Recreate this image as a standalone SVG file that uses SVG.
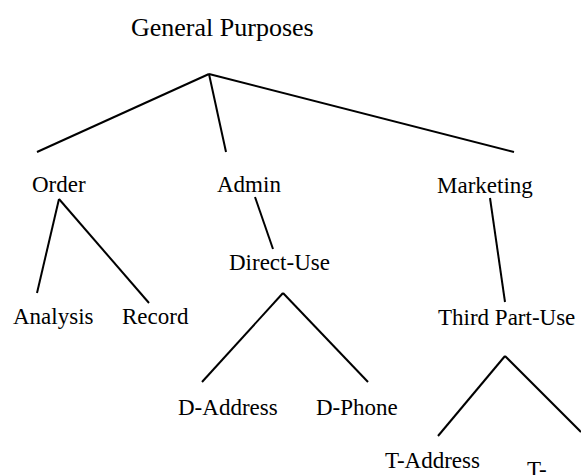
<svg xmlns="http://www.w3.org/2000/svg" width="581" height="475" viewBox="0 0 581 475">
<style>
text{font-family:"Liberation Serif","Times New Roman",serif;font-size:23px;fill:#000}
.t{font-size:26px}
line{stroke:#000;stroke-width:2;stroke-linecap:butt}
</style>
<rect width="581" height="475" fill="#fff"/>
<g id="connectors">
<line x1="209" y1="74" x2="37" y2="152"/>
<line x1="209" y1="74" x2="226" y2="152"/>
<line x1="209" y1="74" x2="514" y2="152"/>
<line x1="59" y1="199" x2="37" y2="293"/>
<line x1="59" y1="199" x2="149" y2="303"/>
<line x1="255" y1="197" x2="273" y2="249"/>
<line x1="490" y1="198" x2="505" y2="302"/>
<line x1="283" y1="293" x2="202" y2="382"/>
<line x1="283" y1="293" x2="368" y2="382"/>
<line x1="505" y1="356" x2="438" y2="436"/>
<line x1="505" y1="356" x2="581" y2="432"/>
</g>
<g id="general"><text class="t" x="131" y="36">General Purposes</text></g>
<g id="order"><text x="32" y="192">Order</text></g>
<g id="admin"><text x="217" y="192">Admin</text></g>
<g id="marketing"><text x="437" y="193">Marketing</text></g>
<g id="direct-use"><text x="229" y="270">Direct-Use</text></g>
<g id="analysis"><text x="13" y="324">Analysis</text></g>
<g id="record"><text x="122" y="324">Record</text></g>
<g id="third-part-use"><text x="438" y="325">Third Part-Use</text></g>
<g id="d-address"><text x="178" y="415">D-Address</text></g>
<g id="d-phone"><text x="316" y="415">D-Phone</text></g>
<g id="t-address"><text x="385" y="468">T-Address</text></g>
<g id="t-phone"><text x="527" y="477">T-</text></g>
</svg>
